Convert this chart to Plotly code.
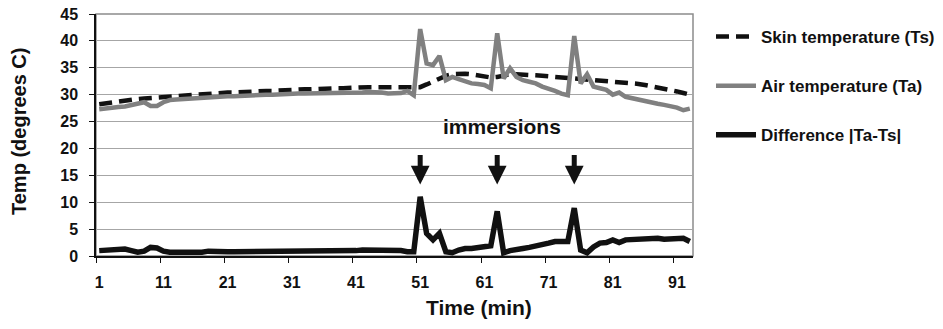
import plotly.graph_objects as go

minutes = list(range(1, 94))

skin_temp = [
    28.2, 28.4, 28.6, 28.8, 28.9, 29.0, 29.2, 29.3, 29.4, 29.5,
    29.6, 29.7, 29.8, 29.9, 30.0, 30.0, 30.1, 30.2, 30.2, 30.3,
    30.4, 30.4, 30.5, 30.5, 30.6, 30.6, 30.7, 30.7, 30.8, 30.8,
    30.9, 30.9, 31.0, 31.0, 31.1, 31.1, 31.2, 31.2, 31.2, 31.3,
    31.3, 31.3, 31.4, 31.4, 31.4, 31.4, 31.5, 31.5, 31.4, 31.3,
    31.4, 31.9, 32.5, 33.0, 33.5, 33.8, 33.9, 33.9, 33.8, 33.6,
    33.4, 33.2, 33.3, 33.6, 33.8, 33.8, 33.8, 33.7, 33.6, 33.5,
    33.4, 33.3, 33.2, 33.1, 33.0, 33.0, 32.9, 32.9, 32.8, 32.7,
    32.6, 32.5, 32.3, 32.2, 32.0, 31.8, 31.6, 31.4, 31.2, 30.9,
    30.6, 30.3, 30.0,
]

air_temp = [
    27.3, 27.5, 27.6, 27.7, 27.8, 28.1, 28.5, 28.6, 27.9, 27.9,
    28.6, 29.0, 29.1, 29.2, 29.3, 29.4, 29.4, 29.5, 29.6, 29.6,
    29.7, 29.7, 29.8, 29.8, 29.9, 29.9, 30.0, 30.0, 30.1, 30.1,
    30.1, 30.2, 30.2, 30.2, 30.2, 30.3, 30.3, 30.3, 30.3, 30.4,
    30.4, 30.4, 30.5, 30.5, 30.4, 30.2, 30.2, 30.3, 30.7, 29.9,
    42.2, 35.8, 35.5, 37.2, 32.7, 33.3, 32.9, 32.4, 32.1, 32.0,
    31.8, 31.2, 41.4, 33.0, 34.9, 33.3, 32.7, 32.4, 32.1, 31.5,
    31.2, 30.7, 30.2, 29.9, 40.9, 32.1, 33.8, 31.5, 31.2, 30.9,
    30.0, 30.4, 29.6, 29.3, 29.0, 28.8, 28.5, 28.3, 28.1, 27.9,
    27.6, 27.1, 27.4,
]

difference = [
    1.0, 1.1, 1.2, 1.3, 1.3, 1.0, 0.7, 0.9, 1.6, 1.5,
    0.9, 0.7, 0.7, 0.7, 0.7, 0.6, 0.7, 0.9, 0.8, 0.7,
    0.8, 0.8, 0.8, 0.8, 0.8, 0.8, 0.8, 0.8, 0.8, 0.9,
    0.9, 0.9, 0.9, 0.9, 1.0, 1.0, 1.0, 0.9, 0.9, 1.0,
    1.0, 1.1, 1.1, 1.0, 1.0, 1.1, 1.1, 1.0, 0.8, 0.8,
    11.0, 4.2, 3.0, 4.2, 0.8, 0.6, 1.1, 1.4, 1.4, 1.6,
    1.6, 1.9, 8.3, 0.6, 1.0, 1.1, 1.4, 1.6, 1.8, 2.2,
    2.4, 2.7, 2.8, 2.7, 8.9, 1.1, 0.6, 1.7, 2.4, 2.5,
    3.0, 2.5, 3.0, 3.1, 3.1, 3.1, 3.2, 3.3, 3.1, 3.1,
    3.1, 3.3, 2.7,
]

x_tick_vals = [1, 11, 21, 31, 41, 51, 61, 71, 81, 91]
x_tick_text = ["1", "11", "21", "31", "41", "51", "61", "71", "81", "91"]
x_boundaries = [0.5, 10.5, 20.5, 30.5, 40.5, 50.5, 60.5, 70.5, 80.5, 90.5]
y_tick_vals = [0, 5, 10, 15, 20, 25, 30, 35, 40, 45]

immersion_minutes = [51, 63, 75]
immersion_arrow_tip = 13.3
immersion_label = "immersions"
immersion_label_pos = (63.7, 24.0)

FONT = "Liberation Sans, Arial, sans-serif"
TXT = "#111111"

# plot-area geometry in pixels (for placing titles outside the plot)
L, R, T, B = 96, 250, 14, 73
PW = 943 - L - R
PH = 329 - T - B

fig = go.Figure()
fig.add_trace(go.Scatter(
    x=minutes, y=skin_temp, mode="lines", name="Skin temperature (Ts)",
    legendgroup="ts",
    line=dict(color="#111111", width=4.5, dash="13px,7px"),
))
fig.add_trace(go.Scatter(
    x=minutes, y=air_temp, mode="lines", name="Air temperature (Ta)",
    legendgroup="ta",
    line=dict(color="#808080", width=4.5),
))
fig.add_trace(go.Scatter(
    x=minutes, y=difference, mode="lines", name="Difference |Ta-Ts|",
    legendgroup="diff",
    line=dict(color="#111111", width=5.5),
))

annotations = []
for m in immersion_minutes:
    annotations.append(dict(
        x=m, y=immersion_arrow_tip, xref="x", yref="y", text="",
        showarrow=True, ax=0, ay=-31, axref="pixel", ayref="pixel",
        arrowhead=2, arrowwidth=5, arrowsize=0.75, arrowcolor="#111111",
        standoff=0, startstandoff=0,
    ))
annotations.append(dict(
    x=immersion_label_pos[0], y=immersion_label_pos[1], xref="x", yref="y",
    text=immersion_label, showarrow=False, xanchor="center", yanchor="middle",
    font=dict(family=FONT, size=21, color=TXT, weight="bold"),
))
annotations.append(dict(
    x=(479 - L) / PW, y=(329 - B - 307) / PH, xref="paper", yref="paper",
    text="Time (min)", showarrow=False, xanchor="center", yanchor="middle",
    font=dict(family=FONT, size=21, color=TXT, weight="bold"),
))
annotations.append(dict(
    x=(19 - L) / PW, y=(329 - B - 132) / PH, xref="paper", yref="paper",
    text="Temp (degrees C)", showarrow=False, textangle=-90,
    xanchor="center", yanchor="middle",
    font=dict(family=FONT, size=20, color=TXT, weight="bold"),
))

fig.update_layout(
    width=943, height=329,
    margin=dict(l=L, r=R, t=T, b=B, pad=0, autoexpand=False),
    paper_bgcolor="white", plot_bgcolor="white",
    font=dict(family=FONT, size=16, color=TXT, weight="bold"),
    showlegend=True,
    legend=dict(
        xref="container", yref="container",
        x=711 / 943, y=1 - 19 / 329, xanchor="left", yanchor="top",
        font=dict(family=FONT, size=17, color=TXT, weight="bold"),
        itemwidth=40,
        tracegroupgap=24, bgcolor="rgba(0,0,0,0)",
    ),
    annotations=annotations,
    shapes=[dict(
        type="rect", xref="x domain", yref="y domain", x0=0, x1=1, y0=0, y1=1,
        line=dict(color="#8c8c8c", width=1.5), layer="below",
    )],
)

fig.update_xaxes(
    range=[0.5, 93.5], tickmode="array", tickvals=x_tick_vals, ticktext=x_tick_text,
    ticks="", showgrid=False, zeroline=False, automargin=False,
    showline=True, linecolor="#111111", linewidth=1.5,
    ticklabelstandoff=11,
    tickfont=dict(family=FONT, size=16, color=TXT, weight="bold"),
    minor=dict(tickmode="array", tickvals=x_boundaries, ticks="outside",
               ticklen=5, tickcolor="#111111", showgrid=False),
)
fig.update_yaxes(
    range=[0, 45], tickmode="array", tickvals=y_tick_vals,
    ticks="outside", ticklen=5, tickcolor="#111111", automargin=False,
    showgrid=True, gridcolor="#a6a6a6", gridwidth=1.2, zeroline=False,
    showline=True, linecolor="#111111", linewidth=1.5,
    ticklabelstandoff=8,
    tickfont=dict(family=FONT, size=16, color=TXT, weight="bold"),
)

fig.write_html("out.html")
